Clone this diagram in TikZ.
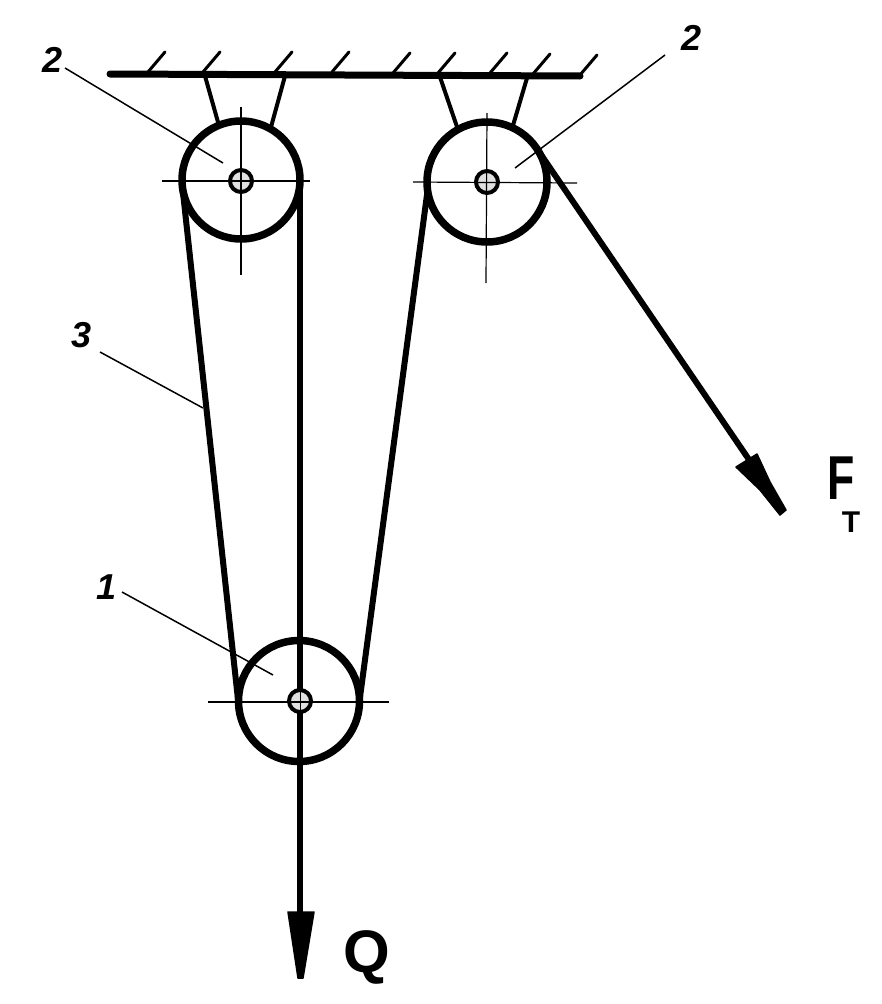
\documentclass[tikz,border=0pt]{standalone}
\usepackage{fontspec}
\setmainfont{Liberation Sans}
\tikzset{
  wheel/.style={circle,draw=black,line width=7.5pt,inner sep=0pt,outer sep=0pt},
  hub/.style={circle,draw=black,line width=4pt,fill=black!12,minimum size=22pt,inner sep=0pt,outer sep=0pt},
  belt/.style={draw=black,line width=6pt},
  bracket/.style={draw=black,line width=4pt},
  axisline/.style={draw=black,line width=1.2pt},
  leader/.style={draw=black,line width=1.5pt},
  tick/.style={draw=black,line width=3pt,line cap=round},
  beam/.style={draw=black,line width=7pt,line cap=round},
  num/.style={font=\fontsize{36}{36}\selectfont\bfseries\itshape,inner sep=0pt},
  head/.style={fill=black,draw=black,line width=1.5pt,line join=round}
}
\begin{document}
\begin{tikzpicture}[x=1pt,y=-1pt]
\useasboundingbox (0,0) rectangle (881,1004);
% wheels
\node[wheel,minimum size=118pt] (wL) at (241,180) {};
\node[wheel,minimum size=120pt] (wR) at (487,182) {};
\node[wheel,minimum size=121pt] (wB) at (299,701) {};
% beam and hatching
\coordinate (beamA) at (110,74);
\coordinate (beamB) at (580,76);
\path[beam] (beamA) -- (beamB);
\foreach \x/\y in {148/72,203/72,275/72,332/72,393/73,438/73,490/73,533/74,580/75}
  \path[tick] (\x,\y) -- (\x+17,\y-20);
% brackets
\coordinate (bL1) at (205,76);
\coordinate (bL2) at (285,76);
\coordinate (bR1) at (440,77);
\coordinate (bR2) at (527,78);
\path[bracket] (bL1) -- (wL.112);
\path[bracket] (bL2) -- (wL.60);
\path[bracket] (bR1) -- (wR.119);
\path[bracket] (bR2) -- (wR.65);
% belts
\coordinate (tipQ) at (300,968);
\coordinate (tipF) at (782,508);
\node[hub] (hL) at (241,181) {};
\node[hub] (hR) at (487,182) {};
\node[hub] (hB) at (300,701) {};
\path[belt] (wL.186) -- (wB.186);
\path[belt] (wL.east) -- (hB.north);
\path[belt] (wR.188) -- (wB.east);
\path[belt] (hB.south) -- (tipQ);
\path[belt] (wR.34) -- (tipF);
% arrow heads
\path[head] (288,912) -- (314,912) -- (303,978) -- (298,978) -- cycle;
\path[head] (736,467) -- (757,454) -- (770,482) -- (786,510) -- (780,515) -- (760,490) -- cycle;
% centre lines
\coordinate (cLw) at (162,181); \coordinate (cLe) at (310,181);
\coordinate (cLn) at (241,107); \coordinate (cLs) at (241,275);
\coordinate (cRw) at (413,182); \coordinate (cRe) at (577,183);
\coordinate (cRn) at (487,113); \coordinate (cRs) at (486,283);
\coordinate (cBw) at (208,702); \coordinate (cBe) at (389,702);
\path[axisline] (cLw) -- (cLe);
\path[axisline] (cLn) -- (cLs);
\path[axisline] (cRw) -- (cRe);
\path[axisline] (cRn) -- (cRs);
\path[axisline] (cBw) -- (cBe);
\draw[black,line width=1pt] (300,690) -- (300,712);
% leaders and labels
\node[num] (n2a) at (53,60) {2};
\node[num] (n2b) at (692,38) {2};
\node[num] (n3) at (82,335) {3};
\node[num] (n1) at (107,587) {1};
\coordinate (e2a) at (223,163);
\coordinate (e2b) at (515,168);
\coordinate (e3) at (203,408);
\coordinate (e1) at (273,675);
\path[leader] (65,68) -- (e2a);
\path[leader] (665,55) -- (e2b);
\path[leader] (100,352) -- (e3);
\path[leader] (122,592) -- (e1);
\node[inner sep=0pt,font=\fontsize{60}{60}\selectfont\bfseries] (Q) at (367,957) {Q};
\node[inner sep=0pt,xscale=.72,font=\fontsize{62}{62}\selectfont\bfseries] (F) at (841,478) {F};
\node[inner sep=0pt,font=\fontsize{30}{30}\selectfont\bfseries] (T) at (851,522) {T};
\end{tikzpicture}
\end{document}
